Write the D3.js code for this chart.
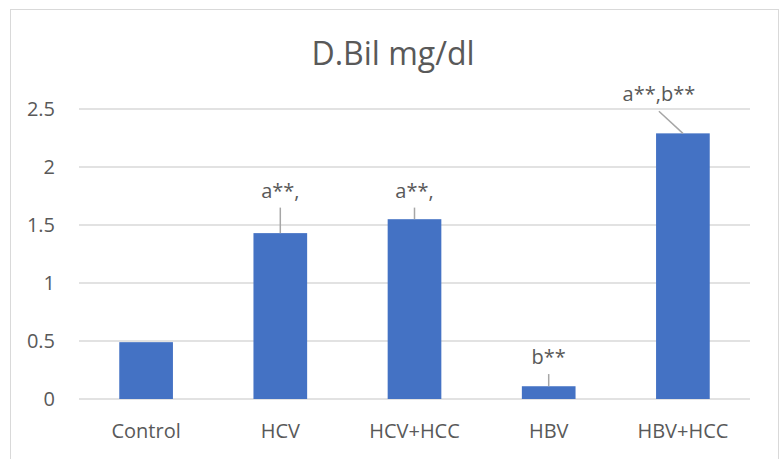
<!DOCTYPE html>
<html>
<head>
<meta charset="utf-8">
<script src="https://cdn.jsdelivr.net/npm/d3@7"></script>
<style>
  html, body { margin: 0; padding: 0; background: #fff; }
  svg { display: block; font-family: "Open Sans", sans-serif; }
</style>
</head>
<body>
<svg id="chart" width="783" height="459"></svg>
<script>
// ---- data ----
const categories = ["Control", "HCV", "HCV+HCC", "HBV", "HBV+HCC"];
const values = [0.49, 1.43, 1.55, 0.11, 2.29];
const leaderTop = [null, 1.65, 1.65, 0.215, 2.48];
const sigLabels = ["", "a**,", "a**,", "b**", "a**,b**"];
const yTicks = [0, 0.5, 1, 1.5, 2, 2.5];
const title = "D.Bil mg/dl";

// ---- layout ----
const labelDx = [0, 0, 0, 0, -24]; // horizontal offset of label leader top (px)
const plot = { left: 79, right: 750, top: 109, bottom: 399 };
const textColor = "#595959";

const svg = d3.select("#chart");

svg.append("rect")
  .attr("x", 10.5).attr("y", 9.5)
  .attr("width", 768).attr("height", 470)
  .attr("fill", "#fff").attr("stroke", "#d9d9d9").attr("stroke-width", 1);

const x = d3.scaleBand().domain(categories)
  .range([plot.left, plot.right]).paddingInner(0.6).paddingOuter(0.3);
const y = d3.scaleLinear().domain([0, 2.5]).range([plot.bottom, plot.top]);

// gridlines
svg.append("g").selectAll("line").data(yTicks).join("line")
  .attr("x1", plot.left).attr("x2", plot.right)
  .attr("y1", d => y(d)).attr("y2", d => y(d))
  .attr("stroke", "#d9d9d9").attr("stroke-width", 1.5);

// y axis labels
const yAxis = d3.axisLeft(y).tickValues(yTicks).tickSize(0).tickPadding(0)
  .tickFormat(d3.format("~g"));
const gy = svg.append("g").attr("transform", `translate(55,0)`).call(yAxis);
gy.select(".domain").remove();
gy.selectAll("text").attr("font-size", 20).attr("fill", textColor)
  .attr("font-family", "Open Sans, sans-serif");

// x axis labels
const xAxis = d3.axisBottom(x).tickSize(0).tickPadding(0);
const gx = svg.append("g").attr("transform", `translate(0,${plot.bottom})`).call(xAxis);
gx.select(".domain").remove();
gx.selectAll("text").attr("font-size", 20).attr("fill", textColor)
  .attr("font-family", "Open Sans, sans-serif")
  .attr("dy", null).attr("y", 39);

// bars
svg.append("g").selectAll("rect").data(values).join("rect")
  .attr("x", (d, i) => x(categories[i]))
  .attr("width", x.bandwidth())
  .attr("y", d => y(d))
  .attr("height", d => y(0) - y(d))
  .attr("fill", "#4472c4");

// leader lines
const leaders = categories.map((c, i) => ({ i, c, v: values[i], t: leaderTop[i], lab: sigLabels[i] }))
  .filter(d => d.t != null);
const cx = c => x(c) + x.bandwidth() / 2;
svg.append("g").selectAll("line").data(leaders).join("line")
  .attr("x1", d => cx(d.c) + labelDx[d.i]).attr("y1", d => y(d.t))
  .attr("x2", d => cx(d.c)).attr("y2", d => y(d.v))
  .attr("stroke", "#a6a6a6").attr("stroke-width", 1.5);

// significance labels
svg.append("g").selectAll("text").data(leaders).join("text")
  .attr("x", d => cx(d.c) + labelDx[d.i])
  .attr("y", d => y(d.t) - 10)
  .attr("text-anchor", "middle")
  .attr("font-size", 20).attr("fill", textColor)
  .text(d => d.lab);

// title
svg.append("text").attr("x", 393).attr("y", 65)
  .attr("text-anchor", "middle").attr("font-size", 32).attr("fill", textColor)
  .text(title);
</script>
</body>
</html>
